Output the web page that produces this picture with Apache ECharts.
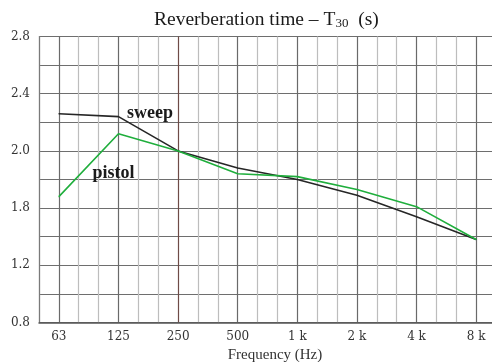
<!DOCTYPE html>
<html>
<head>
<meta charset="utf-8">
<script src="https://cdn.jsdelivr.net/npm/echarts@6/dist/echarts.min.js"></script>
<style>
  html, body { margin: 0; padding: 0; background: #fff; }
  #chart { width: 492px; height: 362px; }
</style>
</head>
<body>
<div id="chart"></div>
<script>
// Octave-band centre frequencies and their printed labels
const bandLabels = ['63', '125', '250', '500', '1 k', '2 k', '4 k', '8 k'];
// Reverberation time T30 (s) per octave band
const sweepT30 = [2.26, 2.24, 2.00, 1.88, 1.80, 1.69, 1.54, 1.38];
const pistolT30 = [1.68, 2.12, 2.00, 1.84, 1.82, 1.73, 1.61, 1.38];
// Y tick labels as printed on the chart (values 0.8 … 2.8, step 0.4)
const yTickLabels = ['0.8', '1.2', '1.8', '2.0', '2.4', '2.8'];

// x axis runs in third-octave steps; each octave band sits on every third step
const thirdOf = i => 1 + 3 * i;
const pairs = vals => vals.map((v, i) => [thirdOf(i), v]);

// Grid line colours: octave lines dark, third-octave lines light, 250 Hz brown
const dark = '#6a6a6a', light = '#bdbdbd', brown = '#6e4b47';
const vColors = [];
for (let k = 0; k <= 23; k++) {
  if (k === thirdOf(2)) vColors.push(brown);
  else if ((k - 1) % 3 === 0) vColors.push(dark);
  else vColors.push(light);
}

const serif = 'Liberation Serif';
const tickFont = 'DejaVu Serif';

// Curve name written next to the 125 Hz point of each curve
const curveLabel = (text, offset, position) => ({
  show: true,
  formatter: p => (p.dataIndex === 1 ? text : ''),
  position: position,
  offset: offset,
  fontFamily: serif,
  fontWeight: 'bold',
  fontSize: 18,
  color: '#1a1a1a'
});

const chart = echarts.init(document.getElementById('chart'), null, { renderer: 'canvas' });
chart.setOption({
  animation: false,
  backgroundColor: '#ffffff',
  title: {
    text: '{a|Reverberation time – T}{b|30}{a|  (s)}',
    left: 149,
    top: 4,
    textStyle: {
      fontWeight: 'normal',
      rich: {
        a: { fontFamily: serif, fontSize: 19.5, color: '#1a1a1a', fontWeight: 'normal' },
        b: { fontFamily: serif, fontSize: 13, color: '#1a1a1a', fontWeight: 'normal', verticalAlign: 'bottom', padding: [8, 0, 0, 0] }
      }
    }
  },
  grid: { left: 39, right: -4, top: 36.5, bottom: 39.5, containLabel: false, outerBoundsMode: 'none' },
  xAxis: {
    type: 'value',
    min: 0,
    max: 23,
    interval: 1,
    axisLine: { show: true, lineStyle: { color: '#555', width: 1.5 } },
    axisTick: { show: false },
    splitLine: { show: true, lineStyle: { color: vColors, width: 1.2 } },
    axisLabel: {
      margin: 8,
      fontFamily: tickFont,
      fontSize: 12,
      color: '#333',
      formatter: v => {
        const i = (v - 1) / 3;
        return Number.isInteger(i) && i >= 0 && i < bandLabels.length ? bandLabels[i] : '';
      }
    },
    name: 'Frequency (Hz)',
    nameLocation: 'middle',
    nameGap: 24,
    nameTextStyle: { fontFamily: serif, fontSize: 15, color: '#333', padding: [0, 0, 0, 15] }
  },
  yAxis: {
    type: 'value',
    min: 0.8,
    max: 2.8,
    interval: 0.2,
    axisLine: { show: true, lineStyle: { color: '#7a7a7a', width: 1.2 } },
    axisTick: { show: false },
    splitLine: { show: true, lineStyle: { color: '#6e6e6e', width: 1.2 } },
    axisLabel: {
      margin: 9,
      fontFamily: tickFont,
      fontSize: 12,
      color: '#333',
      formatter: v => {
        const i = Math.round((v - 0.8) / 0.4);
        return Math.abs(v - (0.8 + 0.4 * i)) < 1e-6 ? (yTickLabels[i] || '') : '';
      }
    }
  },
  series: [
    {
      name: 'sweep',
      type: 'line',
      data: pairs(sweepT30),
      symbol: 'circle',
      symbolSize: 1,
      itemStyle: { color: '#262626' },
      z: 3,
      lineStyle: { color: '#262626', width: 1.6 },
      label: curveLabel('sweep', [3, -3], 'right')
    },
    {
      name: 'pistol',
      type: 'line',
      data: pairs(pistolT30),
      symbol: 'circle',
      symbolSize: 1,
      itemStyle: { color: '#1fae3c' },
      z: 4,
      lineStyle: { color: '#1fae3c', width: 1.6 },
      label: curveLabel('pistol', [-5, 25], 'bottom')
    }
  ]
});
</script>
</body>
</html>
